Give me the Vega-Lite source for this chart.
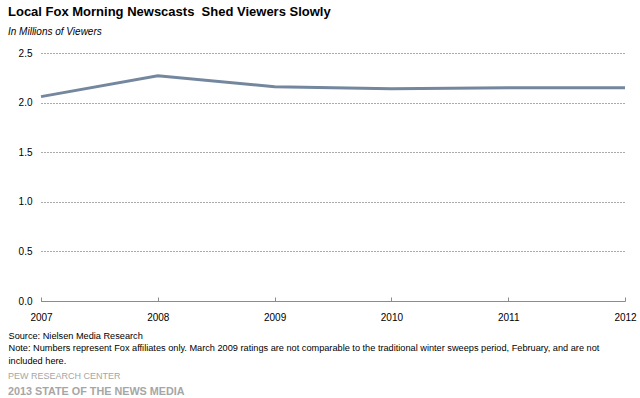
{
  "$schema": "https://vega.github.io/schema/vega-lite/v6.json",
  "padding": {"left": 8, "top": 6, "right": 6, "bottom": 2},
  "background": "white",
  "title": {
    "text": "Local Fox Morning Newscasts\u00a0 Shed Viewers Slowly",
    "subtitle": "In Millions of Viewers",
    "anchor": "start",
    "frame": "bounds",
    "font": "Liberation Sans",
    "fontSize": 13,
    "fontWeight": "bold",
    "color": "#000000",
    "subtitleFont": "Liberation Sans",
    "subtitleFontSize": 10,
    "subtitleFontStyle": "italic",
    "subtitleColor": "#000000",
    "subtitlePadding": 8,
    "offset": 11
  },
  "config": {
    "view": {"stroke": null},
    "font": "Liberation Sans"
  },
  "vconcat": [
    {
      "width": 584,
      "height": 248,
      "title": {
        "text": "PEW RESEARCH CENTER",
        "subtitle": "2013 STATE OF THE NEWS MEDIA",
        "orient": "bottom",
        "anchor": "start",
        "frame": "group",
        "dx": -33,
        "font": "Liberation Sans",
        "fontSize": 9,
        "fontWeight": "normal",
        "color": "#a6a6a6",
        "subtitleFont": "Liberation Sans",
        "subtitleFontSize": 10.8,
        "subtitleFontWeight": "bold",
        "subtitleColor": "#a6a6a6",
        "subtitlePadding": 5,
        "offset": 7
      },
      "data": {
        "values": [
          {"year": 2007, "viewers": 2.06},
          {"year": 2008, "viewers": 2.27},
          {"year": 2009, "viewers": 2.16},
          {"year": 2010, "viewers": 2.14},
          {"year": 2011, "viewers": 2.15},
          {"year": 2012, "viewers": 2.15}
        ]
      },
      "mark": {"type": "line", "color": "#74879e", "strokeWidth": 3},
      "encoding": {
        "x": {
          "field": "year",
          "type": "quantitative",
          "scale": {"domain": [2007, 2012], "nice": false, "zero": false},
          "axis": {
            "values": [2007, 2008, 2009, 2010, 2011, 2012],
            "format": "d",
            "grid": false,
            "domainColor": "#8c8c8c",
            "domainWidth": 1,
            "ticks": true,
            "tickColor": "#8c8c8c",
            "tickSize": -4,
            "labelPadding": 15,
            "labelFontSize": 10,
            "labelColor": "#000000",
            "labelFont": "Liberation Sans",
            "labelFlush": false,
            "title": ["Source: Nielsen Media Research", "Note: Numbers represent Fox affiliates only. March 2009 ratings are not comparable to the traditional winter sweeps period, February, and are not", "included here."],
            "titleX": -33,
            "titleY": 30,
            "titleAlign": "left",
            "titleAnchor": "start",
            "titleBaseline": "top",
            "titleFont": "Liberation Sans",
            "titleFontSize": 9.2,
            "titleFontWeight": "normal",
            "titleColor": "#000000",
            "titleLineHeight": 12.5
          }
        },
        "y": {
          "field": "viewers",
          "type": "quantitative",
          "scale": {"domain": [0, 2.5], "nice": false},
          "axis": {
            "values": [0, 0.5, 1, 1.5, 2, 2.5],
            "format": ".1f",
            "domain": false,
            "ticks": false,
            "grid": true,
            "gridDash": [1, 2],
            "gridColor": "#555555",
            "gridWidth": 1,
            "labelPadding": 9,
            "labelFontSize": 10,
            "labelColor": "#000000",
            "labelFont": "Liberation Sans",
            "title": null
          }
        }
      }
    }
  ]
}
